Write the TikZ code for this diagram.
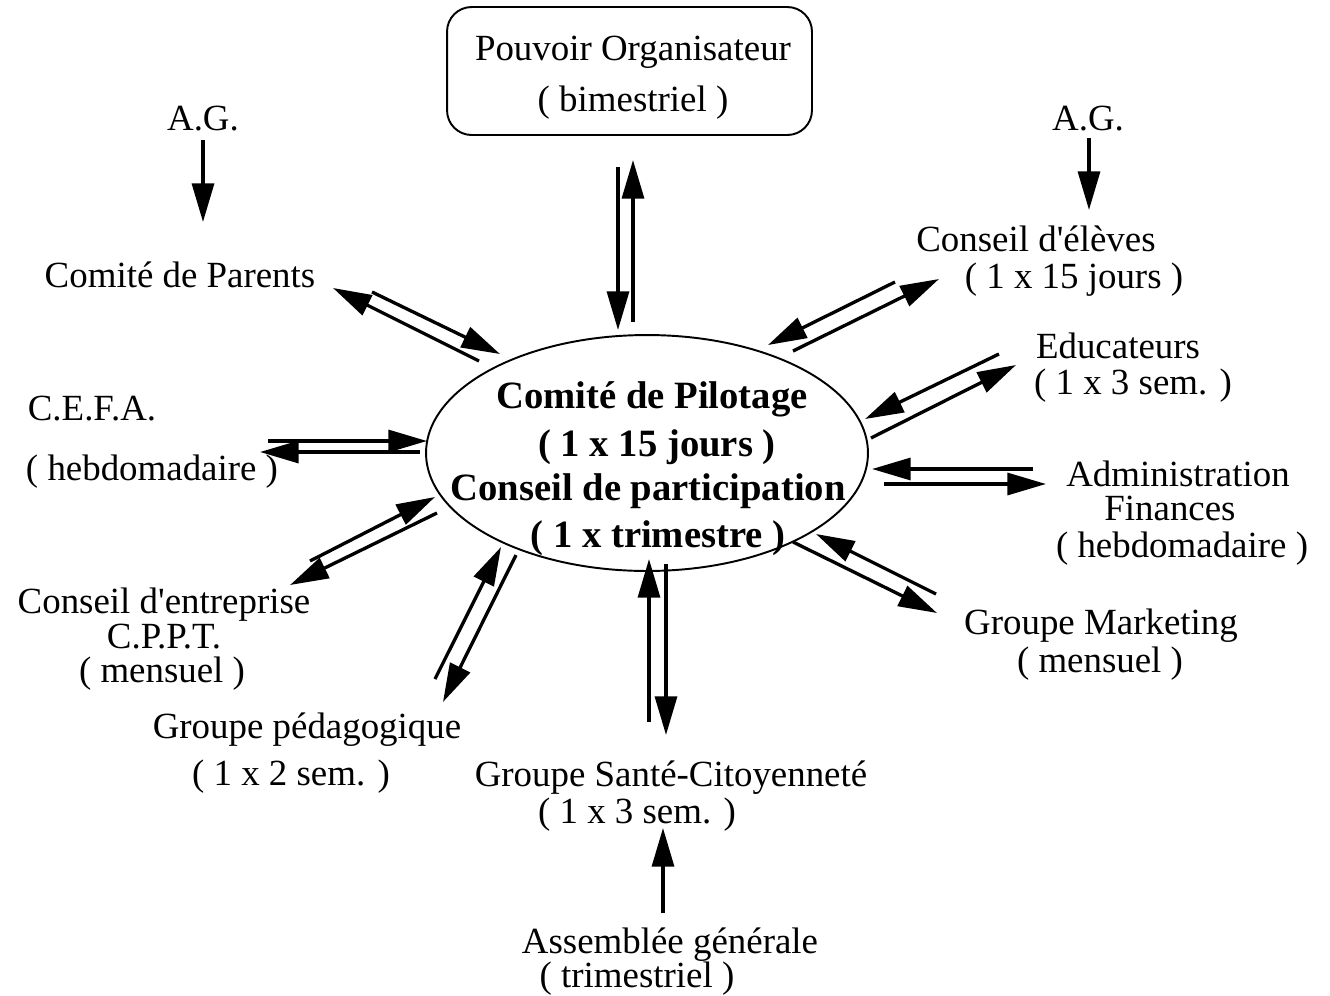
\documentclass[tikz,border=0pt]{standalone}
\usepackage{fontspec}
\setmainfont{Liberation Serif}
\usetikzlibrary{arrows.meta,shapes.geometric}
\begin{document}
\begin{tikzpicture}[x=0.02cm,y=-0.02cm,
  lbl/.style={font=\fontsize{21}{19}\selectfont, inner sep=0pt, text height=0.6em, text depth=0.15em, yshift=-3.6pt},
  blbl/.style={font=\fontsize{22}{26}\selectfont\bfseries, inner sep=0pt, text height=0.6em, text depth=0.15em, yshift=-4pt},
  arr/.style={line width=1.9pt, -{Triangle[length=22pt,width=12.5pt]}},
  frame/.style={draw, line width=1.1pt, inner sep=0pt},
]
\useasboundingbox (0,0) rectangle (1330,995);
% central ellipse
\node[frame, ellipse, minimum width=8.84cm, minimum height=4.72cm] (cp) at (647,453) {};
\node[blbl] (cp1) at (652,398) {Comité de Pilotage};
\node[blbl] (cp2) at (657,446) {( 1 x 15 jours )};
\node[blbl] (cp3) at (648,490) {Conseil de participation};
\node[blbl] (cp4) at (658,537) {( 1 x trimestre )};
% Pouvoir organisateur
\node[frame, rounded corners=14pt, minimum width=7.3cm, minimum height=2.56cm] (po) at (629.5,71) {};
\node[lbl] (po1) at (633,50) {Pouvoir Organisateur};
\node[lbl] (po2) at (633,101) {( bimestriel )};
% labels
\node[lbl] (agl) at (203,120) {A.G.};
\node[lbl] (agr) at (1088,120) {A.G.};
\node[lbl] (par) at (180,277) {Comité de Parents};
\node[lbl] (ce1) at (1036,241) {Conseil d\textquotesingle élèves};
\node[lbl] (ce2) at (1074,278) {( 1 x 15 jours )};
\node[lbl] (ed1) at (1118,348) {Educateurs};
\node[lbl] (ed2) at (1133,384) {( 1 x 3 sem. )};
\node[lbl] (cef1) at (92,410) {C.E.F.A.};
\node[lbl] (cef2) at (152,470) {( hebdomadaire )};
\node[lbl] (ad1) at (1178,476) {Administration};
\node[lbl] (ad2) at (1170,510) {Finances};
\node[lbl] (ad3) at (1182,547) {( hebdomadaire )};
\node[lbl] (en1) at (164,603) {Conseil d\textquotesingle entreprise};
\node[lbl] (en2) at (164,638) {C.P.P.T.};
\node[lbl] (en3) at (162,672) {( mensuel )};
\node[lbl] (gm1) at (1101,624) {Groupe Marketing};
\node[lbl] (gm2) at (1100,662) {( mensuel )};
\node[lbl] (gp1) at (307,728) {Groupe pédagogique};
\node[lbl] (gp2) at (291,775) {( 1 x 2 sem. )};
\node[lbl] (gs1) at (671,776) {Groupe Santé-Citoyenneté};
\node[lbl] (gs2) at (637,813) {( 1 x 3 sem. )};
\node[lbl] (as1) at (670,943) {Assemblée générale};
\node[lbl] (as2) at (637,977) {( trimestriel )};
% arrow end points
\coordinate (aglA) at (203,140); \coordinate (aglB) at (203,222);
\coordinate (agrA) at (1089,138); \coordinate (agrB) at (1089,210);
\coordinate (poA) at (618,167); \coordinate (poB) at (618,330);
\coordinate (poC) at (633,322); \coordinate (poD) at (633,160);
\coordinate (parA) at (479,361); \coordinate (parB) at (333,288);
\coordinate (parC) at (372,292); \coordinate (parD) at (500,354);
\coordinate (ceA) at (895,282); \coordinate (ceB) at (768,345);
\coordinate (ceC) at (793,351); \coordinate (ceD) at (939,279);
\coordinate (edA) at (999,354); \coordinate (edB) at (865,419);
\coordinate (edC) at (871,438); \coordinate (edD) at (1016,365);
\coordinate (cefA) at (268,441); \coordinate (cefB) at (427,441);
\coordinate (cefC) at (420,452); \coordinate (cefD) at (260,452);
\coordinate (adA) at (1033,469); \coordinate (adB) at (872,469);
\coordinate (adC) at (884,484); \coordinate (adD) at (1046,484);
\coordinate (enA) at (310,561); \coordinate (enB) at (435,497);
\coordinate (enC) at (437,513); \coordinate (enD) at (290,585);
\coordinate (gpA) at (435,679); \coordinate (gpB) at (501,547);
\coordinate (gpC) at (516,555); \coordinate (gpD) at (443,702);
\coordinate (gsA) at (649,722); \coordinate (gsB) at (649,559);
\coordinate (gsC) at (666,564); \coordinate (gsD) at (666,735);
\coordinate (gmA) at (936,594); \coordinate (gmB) at (816,534);
\coordinate (gmC) at (793,542); \coordinate (gmD) at (937,613);
\coordinate (asA) at (663,913); \coordinate (asB) at (663,828);
% arrows
\draw[arr] (aglA) -- (aglB);
\draw[arr] (agrA) -- (agrB);
\draw[arr] (poA) -- (poB);
\draw[arr] (poC) -- (poD);
\draw[arr] (parA) -- (parB);
\draw[arr] (parC) -- (parD);
\draw[arr] (ceA) -- (ceB);
\draw[arr] (ceC) -- (ceD);
\draw[arr] (edA) -- (edB);
\draw[arr] (edC) -- (edD);
\draw[arr] (cefA) -- (cefB);
\draw[arr] (cefC) -- (cefD);
\draw[arr] (adA) -- (adB);
\draw[arr] (adC) -- (adD);
\draw[arr] (enA) -- (enB);
\draw[arr] (enC) -- (enD);
\draw[arr] (gpA) -- (gpB);
\draw[arr] (gpC) -- (gpD);
\draw[arr] (gsA) -- (gsB);
\draw[arr] (gsC) -- (gsD);
\draw[arr] (gmA) -- (gmB);
\draw[arr] (gmC) -- (gmD);
\draw[arr] (asA) -- (asB);
\end{tikzpicture}
\end{document}
